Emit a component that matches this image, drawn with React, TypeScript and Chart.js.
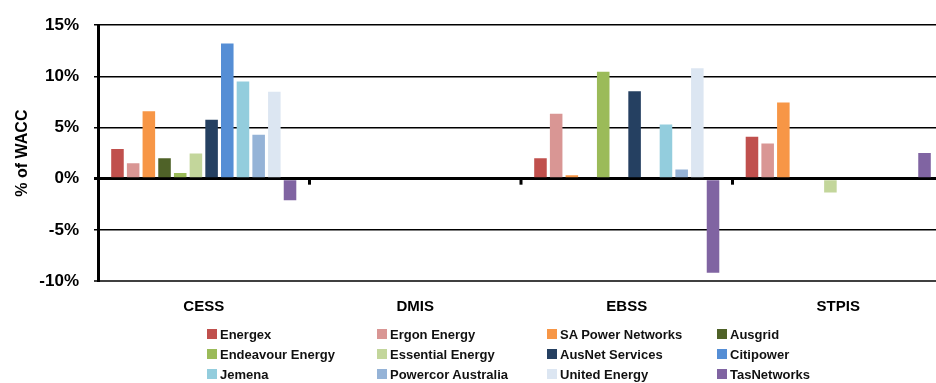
import React, { useEffect, useRef } from "react";
import { Chart, registerables } from "chart.js";

Chart.register(...registerables);

const categories = ["CESS", "DMIS", "EBSS", "STPIS"];

const energex = [2.9, null, 2.0, 4.1];
const ergonEnergy = [1.5, null, 6.35, 3.45];
const saPowerNetworks = [6.6, null, 0.33, 7.45];
const ausgrid = [2.0, null, null, null];
const endeavourEnergy = [0.55, null, 10.45, null];
const essentialEnergy = [2.45, null, null, -1.35];
const ausNetServices = [5.75, null, 8.55, null];
const citipower = [13.2, null, null, null];
const jemena = [9.5, null, 5.3, null];
const powercorAustralia = [4.3, null, 0.9, null];
const unitedEnergy = [8.5, null, 10.8, null];
const tasNetworks = [-2.1, null, -9.2, 2.5];

const seriesNames = [
  "Energex",
  "Ergon Energy",
  "SA Power Networks",
  "Ausgrid",
  "Endeavour Energy",
  "Essential Energy",
  "AusNet Services",
  "Citipower",
  "Jemena",
  "Powercor Australia",
  "United Energy",
  "TasNetworks",
];
const seriesValues = [
  energex,
  ergonEnergy,
  saPowerNetworks,
  ausgrid,
  endeavourEnergy,
  essentialEnergy,
  ausNetServices,
  citipower,
  jemena,
  powercorAustralia,
  unitedEnergy,
  tasNetworks,
];
const seriesColors = [
  "#C0504D",
  "#D99694",
  "#F79646",
  "#4F6228",
  "#9BBB59",
  "#C3D69B",
  "#254061",
  "#558ED5",
  "#93CDDD",
  "#95B3D7",
  "#DCE6F2",
  "#8064A2",
];

const yMin = -10;
const yMax = 15;
const yStep = 5;

const FONT = "'Liberation Sans', Arial, sans-serif";

const zeroTicksPlugin = {
  id: "zeroTicks",
  afterDraw(chart: any) {
    const x = chart.scales.x;
    const y = chart.scales.y;
    const ctx = chart.ctx;
    const zy = y.getPixelForValue(0);
    ctx.save();
    ctx.fillStyle = "#000";
    for (let i = 1; i < categories.length; i++) {
      const px = (x.getPixelForValue(i - 1) + x.getPixelForValue(i)) / 2;
      ctx.fillRect(px - 1.5, zy, 3, 6);
    }
    ctx.restore();
  },
};

export default function App() {
  const ref = useRef<HTMLCanvasElement | null>(null);

  useEffect(() => {
    if (!ref.current) return;
    const chart = new Chart(ref.current, {
      type: "bar",
      data: {
        labels: categories,
        datasets: seriesNames.map((name, i) => ({
          label: name,
          data: seriesValues[i],
          backgroundColor: seriesColors[i],
          borderWidth: 0,
          categoryPercentage: 0.89,
          barPercentage: 0.8,
        })),
      },
      options: {
        responsive: false,
        animation: false,
        layout: { padding: { top: 22, left: 0, right: 0, bottom: 0 } },
        plugins: {
          legend: { display: false },
          tooltip: { enabled: false },
        },
        scales: {
          x: {
            grid: { display: false, drawTicks: false },
            border: { display: false },
            ticks: {
              font: { family: FONT, size: 15, weight: "bold" },
              color: "#000",
              padding: 17,
            },
            afterFit(scale: any) {
              scale.height = 102;
            },
          },
          y: {
            min: yMin,
            max: yMax,
            ticks: {
              stepSize: yStep,
              callback: (v: any) => v + "%",
              font: { family: FONT, size: 17, weight: "bold" },
              color: "#000",
              padding: 15,
            },
            grid: {
              color: (c: any) => (c.tick && c.tick.value === yMin ? "#404040" : "#000"),
              lineWidth: (c: any) =>
                c.tick && c.tick.value === 0 ? 3 : c.tick && c.tick.value === yMin ? 2 : 1.5,
              tickLength: 4,
            },
            border: { color: "#000", width: 3 },
            title: {
              display: true,
              text: "% of WACC",
              font: { family: FONT, size: 16, weight: "bold" },
              color: "#000",
              padding: { top: 13, bottom: 0 },
            },
            afterFit(scale: any) {
              scale.width = 98;
            },
          },
        },
      },
      plugins: [zeroTicksPlugin],
    });
    return () => chart.destroy();
  }, []);

  const rows: number[][] = [];
  for (let i = 0; i < seriesNames.length; i += 4) {
    rows.push([i, i + 1, i + 2, i + 3]);
  }

  return (
    <div
      style={{
        position: "fixed",
        left: 0,
        top: 0,
        width: 936,
        height: 383,
        overflow: "hidden",
        background: "#fff",
      }}
    >
      <canvas ref={ref} width={944} height={383} style={{ display: "block" }} />
      <div
        style={{
          position: "absolute",
          left: 207,
          top: 324,
          fontFamily: FONT,
          fontWeight: "bold",
          fontSize: 13,
          color: "#111",
        }}
      >
        {rows.map((r, ri) => (
          <div key={ri} style={{ display: "flex", height: 20, alignItems: "center" }}>
            {r.map((idx) => (
              <div
                key={idx}
                style={{ width: 170, display: "flex", alignItems: "center", whiteSpace: "nowrap" }}
              >
                <span
                  style={{
                    display: "inline-block",
                    width: 10,
                    height: 10,
                    background: seriesColors[idx],
                    marginRight: 3,
                  }}
                />
                <span>{seriesNames[idx]}</span>
              </div>
            ))}
          </div>
        ))}
      </div>
    </div>
  );
}
